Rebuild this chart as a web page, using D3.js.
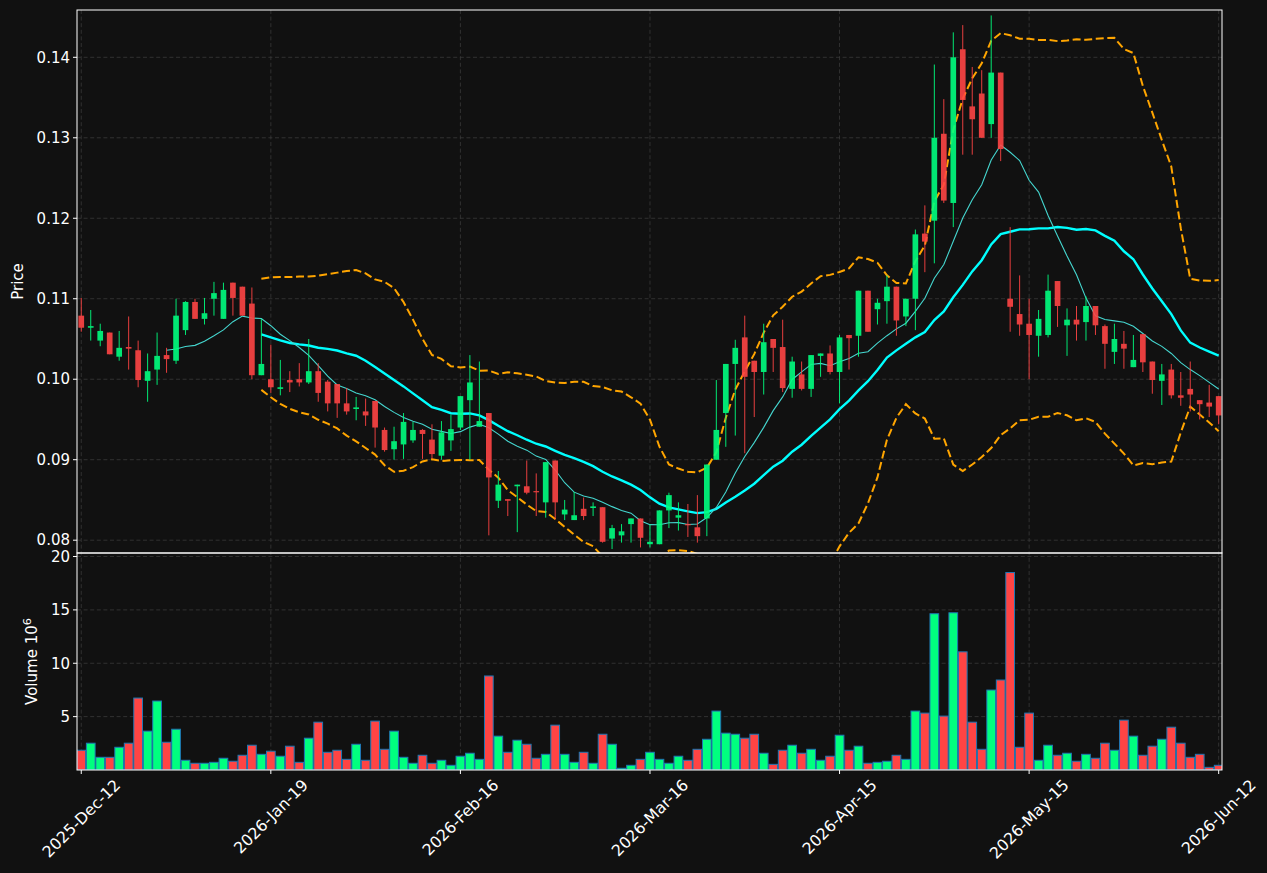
<!DOCTYPE html>
<html>
<head>
<meta charset="utf-8">
<script src="https://cdn.jsdelivr.net/npm/d3@7"></script>
<style>
  html, body { margin: 0; background: #111111; }
  svg { display: block; font-family: "DejaVu Sans", sans-serif; }
</style>
</head>
<body>
<div id="chart"></div>
<script>
// x tick positions (bar index) and their date labels
const tickIdx = [0, 20, 40, 60, 80, 100, 120];
const tickLabels = ['2025-Dec-12', '2026-Jan-19', '2026-Feb-16', '2026-Mar-16', '2026-Apr-15', '2026-May-15', '2026-Jun-12'];

// daily OHLC
const opens = [
  0.1079, 0.1064, 0.1048, 0.1058, 0.1028, 0.1040, 0.1036, 0.0998, 0.1012, 0.1030,
  0.1023, 0.1061, 0.1096, 0.1075, 0.1100, 0.1075, 0.1120, 0.1115, 0.1094, 0.1005,
  0.1000, 0.0988, 0.0999, 0.1000, 0.0996, 0.1010, 0.0997, 0.0994, 0.0970, 0.0963,
  0.0960, 0.0973, 0.0937, 0.0913, 0.0919, 0.0924, 0.0937, 0.0925, 0.0905, 0.0924,
  0.0940, 0.0974, 0.0941, 0.0958, 0.0849, 0.0851, 0.0867, 0.0867, 0.0861, 0.0847,
  0.0899, 0.0832, 0.0825, 0.0839, 0.0840, 0.0841, 0.0802, 0.0806, 0.0820, 0.0827,
  0.0795, 0.0795, 0.0837, 0.0828, 0.0820, 0.0816, 0.0827, 0.0900, 0.0958, 0.1019,
  0.1052, 0.1023, 0.1009, 0.1050, 0.1040, 0.0988, 0.1006, 0.0988, 0.1029, 0.1032,
  0.1009, 0.1055, 0.1054, 0.1110, 0.1087, 0.1097, 0.1115, 0.1078, 0.1100, 0.1181,
  0.1197, 0.1305, 0.1219, 0.1410, 0.1339, 0.1355, 0.1317, 0.1381, 0.1100, 0.1081,
  0.1069, 0.1054, 0.1055, 0.1122, 0.1067, 0.1074, 0.1071, 0.1091, 0.1066, 0.1034,
  0.1044, 0.1015, 0.1056, 0.1022, 0.0998, 0.1012, 0.0980, 0.0988, 0.0974, 0.0971,
  0.0979
];
const highs = [
  0.1101, 0.1086, 0.1069, 0.1058, 0.1060, 0.1078, 0.1048, 0.1032, 0.1058, 0.1039,
  0.1100, 0.1097, 0.1100, 0.1101, 0.1121, 0.1120, 0.1120, 0.1115, 0.1114, 0.1075,
  0.1043, 0.1024, 0.1010, 0.1020, 0.1050, 0.1020, 0.0999, 0.0994, 0.0989, 0.0978,
  0.0976, 0.0973, 0.0940, 0.0941, 0.0958, 0.0947, 0.0938, 0.0944, 0.0948, 0.0956,
  0.0979, 0.1030, 0.1022, 0.0958, 0.0886, 0.0851, 0.0869, 0.0899, 0.0883, 0.0897,
  0.0899, 0.0850, 0.0860, 0.0853, 0.0847, 0.0841, 0.0819, 0.0820, 0.0827, 0.0827,
  0.0820, 0.0837, 0.0859, 0.0847, 0.0845, 0.0856, 0.0894, 0.0999, 0.1019, 0.1049,
  0.1079, 0.1023, 0.1069, 0.1050, 0.1074, 0.1028, 0.1022, 0.1030, 0.1032, 0.1042,
  0.1055, 0.1055, 0.1110, 0.1110, 0.1100, 0.1129, 0.1115, 0.1100, 0.1186, 0.1216,
  0.1391, 0.1348, 0.1431, 0.1440, 0.1388, 0.1384, 0.1452, 0.1381, 0.1189, 0.1129,
  0.1100, 0.1086, 0.1130, 0.1122, 0.1088, 0.1091, 0.1103, 0.1091, 0.1068, 0.1069,
  0.1060, 0.1055, 0.1056, 0.1022, 0.1019, 0.1019, 0.1009, 0.1022, 0.0974, 0.0993,
  0.0979
];
const lows = [
  0.1059, 0.1048, 0.1041, 0.1031, 0.1023, 0.1012, 0.0990, 0.0972, 0.0993, 0.1008,
  0.1019, 0.1055, 0.1075, 0.1068, 0.1079, 0.1075, 0.1079, 0.1079, 0.1000, 0.1005,
  0.0983, 0.0980, 0.0984, 0.0991, 0.0994, 0.0972, 0.0960, 0.0952, 0.0956, 0.0949,
  0.0942, 0.0915, 0.0910, 0.0900, 0.0901, 0.0921, 0.0901, 0.0901, 0.0900, 0.0911,
  0.0937, 0.0900, 0.0941, 0.0806, 0.0840, 0.0830, 0.0810, 0.0857, 0.0830, 0.0828,
  0.0826, 0.0825, 0.0825, 0.0825, 0.0830, 0.0797, 0.0789, 0.0797, 0.0797, 0.0791,
  0.0791, 0.0795, 0.0815, 0.0812, 0.0804, 0.0797, 0.0805, 0.0900, 0.0916, 0.0930,
  0.0908, 0.0953, 0.0981, 0.1009, 0.0984, 0.0977, 0.0986, 0.0978, 0.1003, 0.1006,
  0.0970, 0.1012, 0.1028, 0.1059, 0.1068, 0.1069, 0.1054, 0.1066, 0.1061, 0.1133,
  0.1144, 0.1219, 0.1189, 0.1279, 0.1279, 0.1300, 0.1300, 0.1271, 0.1059, 0.1054,
  0.1000, 0.1028, 0.1052, 0.1065, 0.1029, 0.1048, 0.1048, 0.1055, 0.1013, 0.1019,
  0.1013, 0.1015, 0.1009, 0.0982, 0.0968, 0.0976, 0.0967, 0.0960, 0.0950, 0.0953,
  0.0944
];
const closes = [
  0.1064, 0.1066, 0.1060, 0.1031, 0.1039, 0.1038, 0.0999, 0.1010, 0.1029, 0.1025,
  0.1079, 0.1096, 0.1075, 0.1082, 0.1107, 0.1111, 0.1101, 0.1079, 0.1005, 0.1019,
  0.0990, 0.0990, 0.0996, 0.0996, 0.1010, 0.0983, 0.0970, 0.0970, 0.0960, 0.0965,
  0.0955, 0.0940, 0.0912, 0.0923, 0.0947, 0.0937, 0.0932, 0.0907, 0.0934, 0.0938,
  0.0979, 0.0996, 0.0948, 0.0878, 0.0869, 0.0849, 0.0869, 0.0859, 0.0860, 0.0897,
  0.0847, 0.0838, 0.0831, 0.0830, 0.0842, 0.0798, 0.0815, 0.0811, 0.0827, 0.0803,
  0.0798, 0.0837, 0.0856, 0.0831, 0.0819, 0.0805, 0.0894, 0.0937, 0.1019, 0.1039,
  0.1003, 0.1009, 0.1046, 0.1039, 0.0989, 0.1022, 0.0988, 0.1030, 0.1032, 0.1009,
  0.1052, 0.1051, 0.1110, 0.1059, 0.1095, 0.1115, 0.1073, 0.1100, 0.1180, 0.1171,
  0.1300, 0.1222, 0.1400, 0.1347, 0.1323, 0.1300, 0.1381, 0.1286, 0.1090, 0.1068,
  0.1055, 0.1075, 0.1110, 0.1091, 0.1074, 0.1068, 0.1091, 0.1067, 0.1044, 0.1050,
  0.1038, 0.1024, 0.1021, 0.0999, 0.1006, 0.0980, 0.0977, 0.0981, 0.0969, 0.0966,
  0.0955
];
// volume, in millions
const volumes = [
  1.85, 2.51, 1.19, 1.19, 2.13, 2.51, 6.74, 3.64, 6.46, 2.60,
  3.82, 0.91, 0.63, 0.63, 0.72, 1.10, 0.82, 1.38, 2.32, 1.47,
  1.76, 1.29, 2.23, 0.72, 2.98, 4.48, 1.66, 1.85, 1.00, 2.41,
  0.91, 4.58, 1.94, 3.64, 1.19, 0.63, 1.38, 0.63, 0.91, 0.44,
  1.29, 1.57, 1.00, 8.81, 3.17, 1.66, 2.79, 2.41, 1.10, 1.47,
  4.20, 1.47, 0.72, 1.66, 0.63, 3.35, 2.41, 0.16, 0.44, 1.00,
  1.66, 1.00, 0.63, 1.29, 0.91, 1.94, 2.88, 5.52, 3.45, 3.35,
  2.98, 3.35, 1.57, 0.53, 1.85, 2.32, 1.57, 1.94, 0.91, 1.29,
  3.26, 1.85, 2.23, 0.63, 0.72, 0.82, 1.38, 1.00, 5.52, 5.33,
  14.64, 5.05, 14.73, 11.07, 4.48, 1.94, 7.49, 8.43, 18.50, 2.13,
  5.33, 0.91, 2.32, 1.38, 1.57, 0.82, 1.47, 1.10, 2.51, 1.85,
  4.67, 3.17, 1.38, 2.23, 2.88, 4.01, 2.51, 1.19, 1.47, 0.25,
  0.44
];

const priceTicks = [0.08, 0.09, 0.10, 0.11, 0.12, 0.13, 0.14];
const volTicks = [5, 10, 15, 20];

const UP = '#00ff7f', DOWN = '#ff4444';

function sma(arr, n) {
  return arr.map((_, i) => i < n - 1 ? null : d3.mean(arr.slice(i - n + 1, i + 1)));
}
function band(arr, n, k) {
  return arr.map((_, i) => {
    if (i < n - 1) return null;
    const w = arr.slice(i - n + 1, i + 1);
    const m = d3.mean(w);
    const sd = Math.sqrt(d3.mean(w.map(v => (v - m) * (v - m))));
    return m + k * sd;
  });
}

function render() {
  const W = 1267, H = 873;
  const left = 77, right = 1222;
  const pTop = 10, pBot = 553, vBot = 770;

  const svg = d3.select('#chart').append('svg')
    .attr('width', W).attr('height', H)
    .style('background', '#111111');

  const n = closes.length;
  const x = d3.scaleLinear().domain([-0.45, n - 1 + 0.35]).range([left, right]);
  const y = d3.scaleLinear().domain([0.078409, 0.145877]).range([pBot, pTop]);
  const yv = d3.scaleLinear().domain([0, 20.33]).range([vBot, pBot]);
  const step = x(1) - x(0);

  const defs = svg.append('defs');
  defs.append('clipPath').attr('id', 'clipP').append('rect')
    .attr('x', left).attr('y', pTop).attr('width', right - left).attr('height', pBot - pTop);
  defs.append('clipPath').attr('id', 'clipV').append('rect')
    .attr('x', left).attr('y', pBot).attr('width', right - left).attr('height', vBot - pBot);

  // grid
  const grid = svg.append('g').attr('stroke', '#3a3a3a').attr('stroke-width', 0.8)
    .attr('stroke-dasharray', '4,2.6');
  tickIdx.forEach(t => {
    grid.append('line').attr('x1', x(t)).attr('x2', x(t)).attr('y1', pTop).attr('y2', vBot);
  });
  priceTicks.forEach(t => {
    grid.append('line').attr('x1', left).attr('x2', right).attr('y1', y(t)).attr('y2', y(t));
  });
  volTicks.forEach(t => {
    grid.append('line').attr('x1', left).attr('x2', right).attr('y1', yv(t)).attr('y2', yv(t));
  });

  // indicator lines
  const ma10 = sma(closes, 10);
  const ma20 = sma(closes, 20);
  const upper = band(closes, 20, 2);
  const lower = band(closes, 20, -2);

  const lineGen = d3.line()
    .defined(d => d != null)
    .x((d, i) => x(i))
    .y(d => y(d));

  const lines = svg.append('g').attr('clip-path', 'url(#clipP)').attr('fill', 'none');
  lines.append('path').attr('d', lineGen(upper))
    .attr('stroke', '#ffa500').attr('stroke-width', 2).attr('stroke-dasharray', '8,3.6');
  lines.append('path').attr('d', lineGen(lower))
    .attr('stroke', '#ffa500').attr('stroke-width', 2).attr('stroke-dasharray', '8,3.6');
  lines.append('path').attr('d', lineGen(ma20))
    .attr('stroke', '#00ffff').attr('stroke-width', 2.4);
  lines.append('path').attr('d', lineGen(ma10))
    .attr('stroke', '#45d6cf').attr('stroke-width', 1.1);

  // candles
  const candles = svg.append('g').attr('clip-path', 'url(#clipP)').attr('opacity', 0.9);
  const bodyW = step * 0.6;
  d3.range(n).forEach(i => {
    const up = closes[i] >= opens[i];
    const col = up ? UP : DOWN;
    candles.append('line')
      .attr('x1', x(i)).attr('x2', x(i))
      .attr('y1', y(highs[i])).attr('y2', y(lows[i]))
      .attr('stroke', col).attr('stroke-width', 1);
    const top = y(Math.max(opens[i], closes[i]));
    const bot = y(Math.min(opens[i], closes[i]));
    candles.append('rect')
      .attr('x', x(i) - bodyW / 2).attr('y', top)
      .attr('width', bodyW).attr('height', Math.max(1.2, bot - top))
      .attr('fill', col);
  });

  // volume bars
  const vol = svg.append('g').attr('clip-path', 'url(#clipV)');
  const barW = step * 0.92;
  d3.range(n).forEach(i => {
    const up = closes[i] >= opens[i];
    vol.append('rect')
      .attr('x', x(i) - barW / 2).attr('y', yv(volumes[i]))
      .attr('width', barW).attr('height', yv(0) - yv(volumes[i]))
      .attr('fill', up ? UP : DOWN)
      .attr('stroke', '#1f77b4').attr('stroke-width', 1);
  });

  // frames
  svg.append('rect').attr('x', left).attr('y', pTop).attr('width', right - left).attr('height', pBot - pTop)
    .attr('fill', 'none').attr('stroke', '#ffffff').attr('stroke-width', 1);
  svg.append('rect').attr('x', left).attr('y', pBot).attr('width', right - left).attr('height', vBot - pBot)
    .attr('fill', 'none').attr('stroke', '#ffffff').attr('stroke-width', 1);

  const fs = 15;
  const txt = '#ffffff';

  // y axes
  priceTicks.forEach(t => {
    svg.append('line').attr('x1', left - 4).attr('x2', left).attr('y1', y(t)).attr('y2', y(t))
      .attr('stroke', txt);
    svg.append('text').attr('x', left - 7).attr('y', y(t)).attr('dy', '0.35em')
      .attr('text-anchor', 'end').attr('fill', txt).attr('font-size', fs)
      .text(t.toFixed(2));
  });
  volTicks.forEach(t => {
    svg.append('line').attr('x1', left - 4).attr('x2', left).attr('y1', yv(t)).attr('y2', yv(t))
      .attr('stroke', txt);
    svg.append('text').attr('x', left - 7).attr('y', yv(t)).attr('dy', '0.35em')
      .attr('text-anchor', 'end').attr('fill', txt).attr('font-size', fs)
      .text(t);
  });

  svg.append('text')
    .attr('transform', `translate(23,${(pTop + pBot) / 2}) rotate(-90)`)
    .attr('text-anchor', 'middle').attr('fill', txt).attr('font-size', fs)
    .text('Price');
  const vl = svg.append('text')
    .attr('transform', `translate(37,${(pBot + vBot) / 2}) rotate(-90)`)
    .attr('text-anchor', 'middle').attr('fill', txt).attr('font-size', fs);
  vl.append('tspan').text('Volume  10');
  vl.append('tspan').attr('dy', -6).attr('font-size', fs * 0.75).text('6');

  // x axis
  const xfs = 15.8;
  tickIdx.forEach((t, k) => {
    svg.append('line').attr('x1', x(t)).attr('x2', x(t)).attr('y1', vBot).attr('y2', vBot + 4)
      .attr('stroke', txt);
    const lab = svg.append('text')
      .attr('text-anchor', 'middle').attr('dominant-baseline', 'central')
      .attr('fill', txt).attr('font-size', xfs)
      .text(tickLabels[k]);
    const L = lab.node().getComputedTextLength();
    const half = 0.7071 * (L + xfs * 0.75) / 2;
    lab.attr('transform', `translate(${x(t)},${vBot + 8 + half}) rotate(-45)`);
  });
}

render();
</script>
</body>
</html>
